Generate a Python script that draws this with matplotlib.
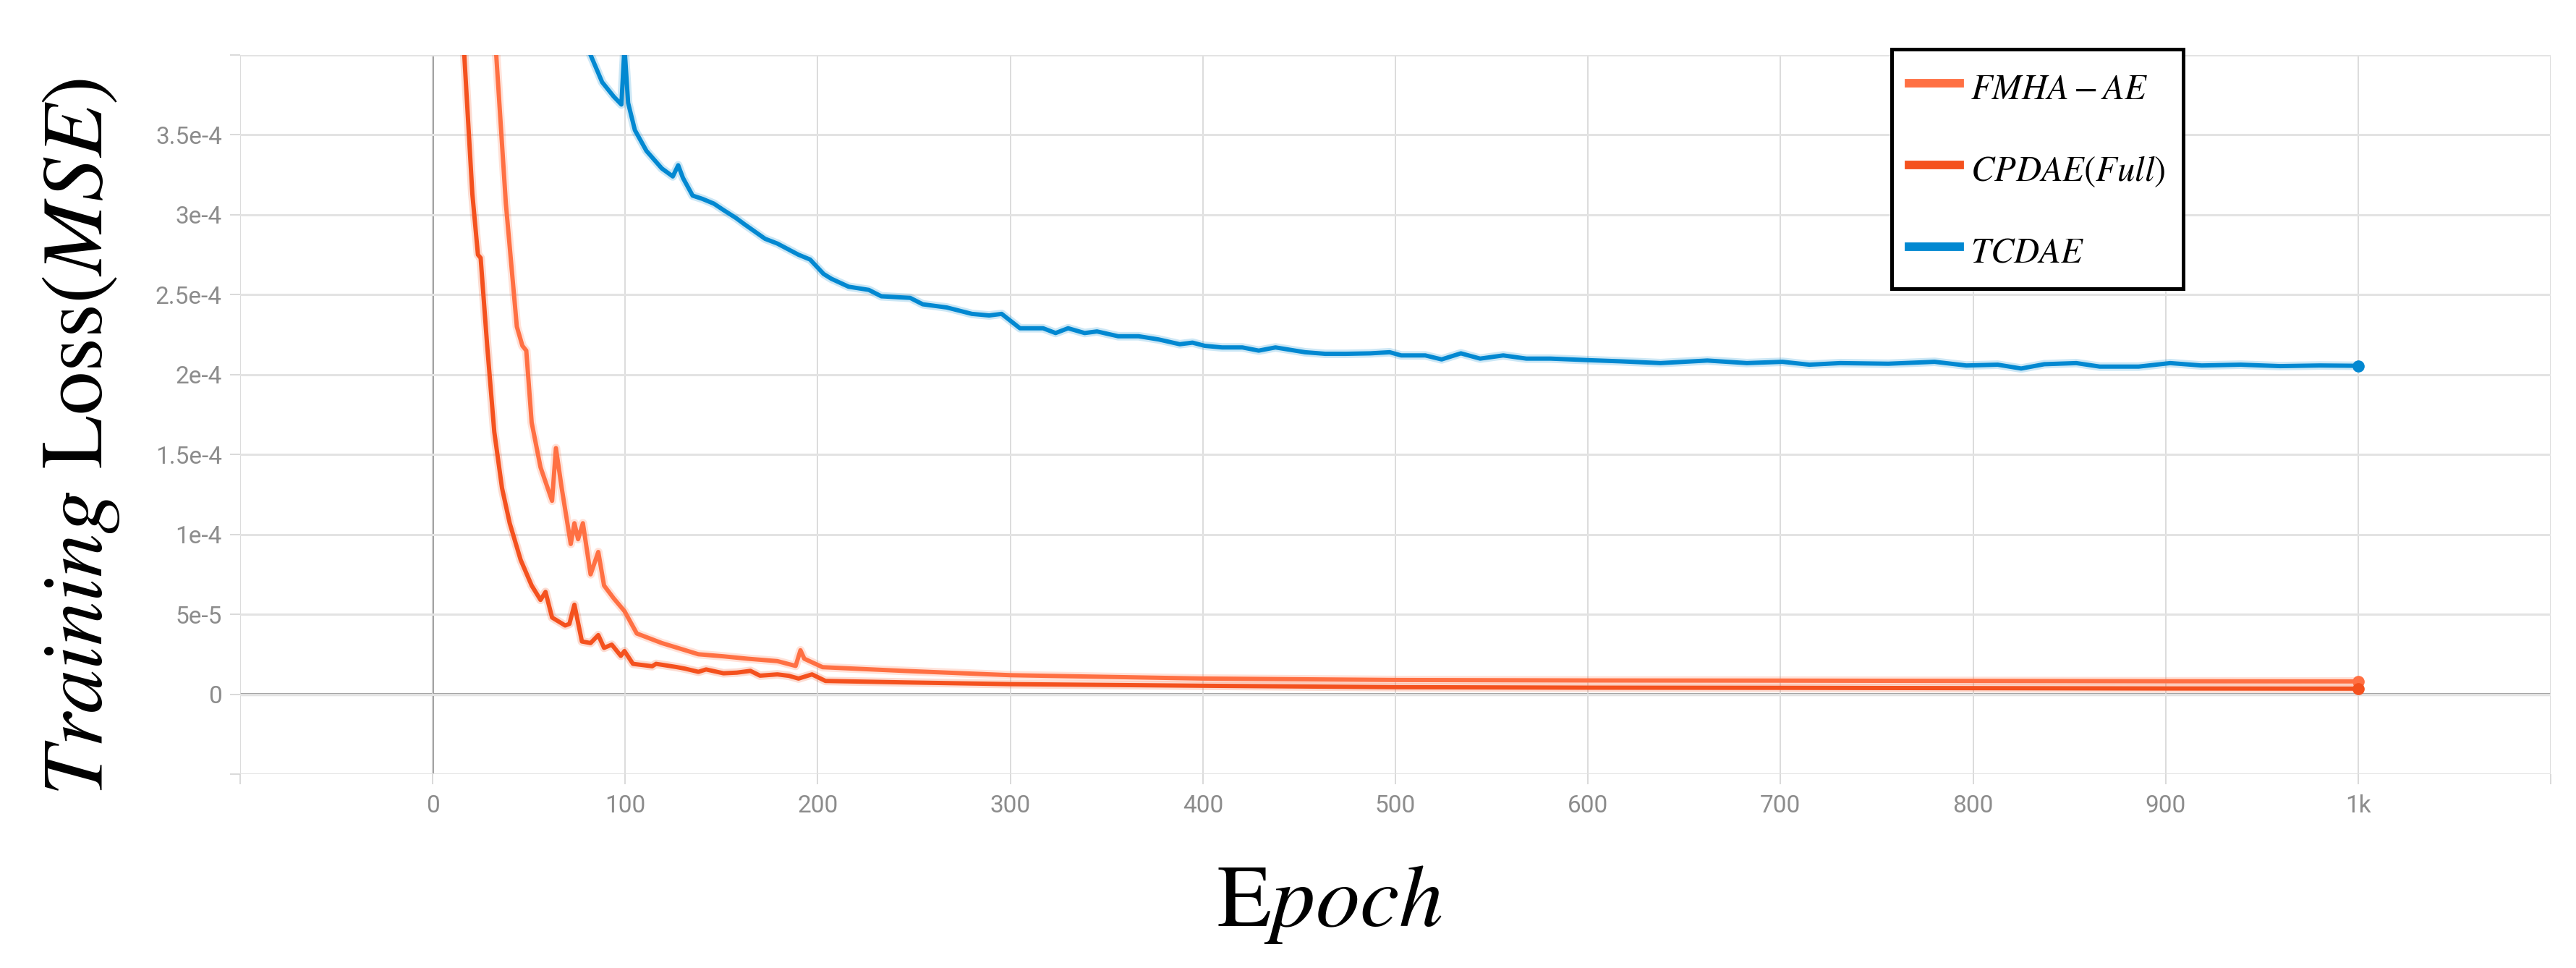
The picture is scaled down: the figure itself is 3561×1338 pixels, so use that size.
# -*- coding: utf-8 -*-
# Training loss curves (TensorBoard-like look) for three autoencoders

import matplotlib
matplotlib.use('Agg')
import matplotlib.pyplot as plt
from matplotlib.ticker import FixedLocator, FixedFormatter

# Data: epoch / smoothed MSE
cpdae_epoch = [14, 16.4, 20.6, 23.5, 24.9, 28.3, 32, 36, 40, 45.7, 51.4, 56, 58.6,
               62, 68.8, 71, 73.6, 77.5, 82, 86, 89, 93, 97.7, 99.6, 104, 114, 116,
               126.6, 131, 138, 142, 151, 158, 165, 170, 179, 185, 190, 197, 204,
               244.5, 300, 400, 500, 600, 700, 800, 900, 1000]
cpdae_loss = [4.6e-4, 4.0e-4, 3.13e-4, 2.75e-4, 2.73e-4, 2.18e-4, 1.64e-4, 1.29e-4,
              1.07e-4, 0.84e-4, 0.68e-4, 0.59e-4, 0.64e-4, 0.48e-4, 0.43e-4, 0.44e-4,
              0.56e-4, 0.33e-4, 0.32e-4, 0.37e-4, 0.29e-4, 0.31e-4, 0.24e-4, 0.27e-4,
              0.19e-4, 0.175e-4, 0.19e-4, 0.17e-4, 0.16e-4, 0.14e-4, 0.155e-4,
              0.131e-4, 0.135e-4, 0.146e-4, 0.116e-4, 0.124e-4, 0.115e-4, 0.098e-4,
              0.124e-4, 0.083e-4, 0.074e-4, 0.063e-4, 0.053e-4, 0.044e-4, 0.041e-4,
              0.040e-4, 0.038e-4, 0.036e-4, 0.035e-4]

fmha_epoch = [30, 33, 38, 43.7, 46.6, 48.6, 51.4, 56, 62, 64, 67, 71.7, 73.6, 75.5,
              78, 82, 86, 89, 94, 99.6, 106, 119, 138, 151, 163.6, 179, 188.5, 191,
              193, 202.5, 244.5, 300, 400, 500, 600, 700, 800, 900, 1000]
fmha_loss = [4.6e-4, 4.0e-4, 3.07e-4, 2.3e-4, 2.18e-4, 2.15e-4, 1.7e-4, 1.42e-4,
             1.21e-4, 1.54e-4, 1.29e-4, 0.94e-4, 1.07e-4, 0.97e-4, 1.07e-4, 0.75e-4,
             0.89e-4, 0.68e-4, 0.6e-4, 0.52e-4, 0.38e-4, 0.32e-4, 0.25e-4, 0.237e-4,
             0.222e-4, 0.207e-4, 0.177e-4, 0.275e-4, 0.222e-4, 0.169e-4, 0.146e-4,
             0.119e-4, 0.098e-4, 0.089e-4, 0.086e-4, 0.085e-4, 0.083e-4, 0.081e-4,
             0.080e-4]

tcdae_epoch = [76, 82, 88, 94, 98, 99.6, 101.5, 105, 111, 119, 124.7, 127.5, 130,
               135, 140, 146, 151, 157.5, 162, 172.6, 179, 190, 196, 203, 207, 216,
               226.5, 233, 248, 254.5, 267, 280, 289, 295.5, 305, 317, 323.5, 330,
               338.6, 345, 356, 366.6, 377, 388, 394.6, 401, 410, 420.5, 429, 437.7,
               453, 463.6, 474, 487, 497, 503, 515.5, 524, 534, 544, 556, 568, 580.6,
               601, 617, 637.7, 662, 682.5, 701, 715, 731, 756, 780, 796.5, 812.8,
               825, 837, 853.6, 865.8, 886, 902.4, 918.7, 939, 959.5, 980, 1000]
tcdae_loss = [4.2e-4, 4.0e-4, 3.83e-4, 3.74e-4, 3.69e-4, 4.05e-4, 3.7e-4, 3.53e-4,
              3.4e-4, 3.29e-4, 3.24e-4, 3.31e-4, 3.23e-4, 3.12e-4, 3.1e-4, 3.07e-4,
              3.03e-4, 2.98e-4, 2.94e-4, 2.85e-4, 2.82e-4, 2.75e-4, 2.72e-4, 2.63e-4,
              2.60e-4, 2.55e-4, 2.53e-4, 2.49e-4, 2.48e-4, 2.44e-4, 2.42e-4, 2.38e-4,
              2.37e-4, 2.38e-4, 2.29e-4, 2.29e-4, 2.26e-4, 2.29e-4, 2.26e-4, 2.27e-4,
              2.24e-4, 2.24e-4, 2.22e-4, 2.19e-4, 2.20e-4, 2.18e-4, 2.17e-4, 2.17e-4,
              2.15e-4, 2.17e-4, 2.14e-4, 2.13e-4, 2.13e-4, 2.133e-4, 2.14e-4, 2.12e-4,
              2.12e-4, 2.095e-4, 2.133e-4, 2.10e-4, 2.12e-4, 2.10e-4, 2.10e-4, 2.09e-4,
              2.083e-4, 2.072e-4, 2.088e-4, 2.072e-4, 2.08e-4, 2.062e-4, 2.072e-4,
              2.068e-4, 2.08e-4, 2.057e-4, 2.062e-4, 2.038e-4, 2.065e-4, 2.072e-4,
              2.05e-4, 2.05e-4, 2.072e-4, 2.057e-4, 2.062e-4, 2.053e-4, 2.057e-4,
              2.055e-4]

x_ticks = [-100, 0, 100, 200, 300, 400, 500, 600, 700, 800, 900, 1000, 1100]
x_labels = ['', '0', '100', '200', '300', '400', '500', '600', '700', '800', '900', '1k', '']
y_ticks = [-5e-5, 0, 5e-5, 1e-4, 1.5e-4, 2e-4, 2.5e-4, 3e-4, 3.5e-4, 4e-4]
y_labels = ['', '0', '5e-5', '1e-4', '1.5e-4', '2e-4', '2.5e-4', '3e-4', '3.5e-4', '']

series = [
    (fmha_epoch, fmha_loss, '#ff7043', r'$FMHA-AE$'),
    (cpdae_epoch, cpdae_loss, '#f4511e', r'$CPDAE(Full)$'),
    (tcdae_epoch, tcdae_loss, '#0288d1', r'$TCDAE$'),
]

plt.rcParams['mathtext.fontset'] = 'stix'

fig = plt.figure(figsize=(35.62, 13.38), dpi=100)
ax = fig.add_axes([0.0932, 0.2003, 0.8967, 0.7429])

# TensorBoard style grid and zero lines
for s in ax.spines.values():
    s.set_visible(False)
ax.xaxis.set_major_locator(FixedLocator(x_ticks))
ax.xaxis.set_major_formatter(FixedFormatter(x_labels))
ax.yaxis.set_major_locator(FixedLocator(y_ticks))
ax.yaxis.set_major_formatter(FixedFormatter(y_labels))
ax.grid(axis='y', color='#e3e3e3', linewidth=2.2, zorder=0)
ax.grid(axis='x', color='#d6d6d6', linewidth=1.2, zorder=0)
ax.axhline(0, color='#a4a4a4', linewidth=3.0, zorder=1)
ax.axvline(0, color='#999999', linewidth=2.2, zorder=1)
ax.tick_params(axis='both', length=10, width=1.2, color='#d3d3d3',
               labelcolor='#8c8c8c', labelsize=24)
ax.tick_params(axis='x', pad=10)
ax.tick_params(axis='y', pad=8)
for lab in ax.get_xticklabels() + ax.get_yticklabels():
    lab.set_family('Roboto')

for ep, loss, col, lab in series:
    ax.plot(ep, loss, color=col, linewidth=8.5, alpha=0.2, zorder=2,
            solid_joinstyle='round')
    ax.plot(ep, loss, color=col, linewidth=4.3, zorder=3, label=lab,
            solid_joinstyle='round')
    ax.plot(ep[-1:], loss[-1:], 'o', color=col, markersize=11, zorder=4)

ax.set_xlim(-100, 1100)
ax.set_ylim(-5e-5, 4e-4)

# Axis titles placed on the figure
fig.text(0.0395, 0.549, r'$\mathit{Training}\ \mathrm{Loss}(\mathit{MSE})$',
         fontsize=87, rotation=90, rotation_mode='anchor',
         ha='center', va='baseline')
fig.text(0.516, 0.0433, r'$\mathrm{E}\mathit{poch}$', fontsize=88,
         ha='center', va='baseline')

handles, labels = ax.get_legend_handles_labels()
leg = fig.legend(handles, labels, loc='upper left', bbox_to_anchor=(0.734, 0.949),
                 borderaxespad=0, fontsize=35, frameon=True, fancybox=False,
                 framealpha=1, edgecolor='black', handlelength=1.45,
                 handleheight=1.4, handletextpad=0.3, borderpad=0.5,
                 labelspacing=1.17)
leg.get_frame().set_linewidth(3.6)
for h in leg.get_lines():
    h.set_linewidth(8.5)
    h.set_alpha(1)

fig.savefig('out.png', dpi=100, facecolor='white')
